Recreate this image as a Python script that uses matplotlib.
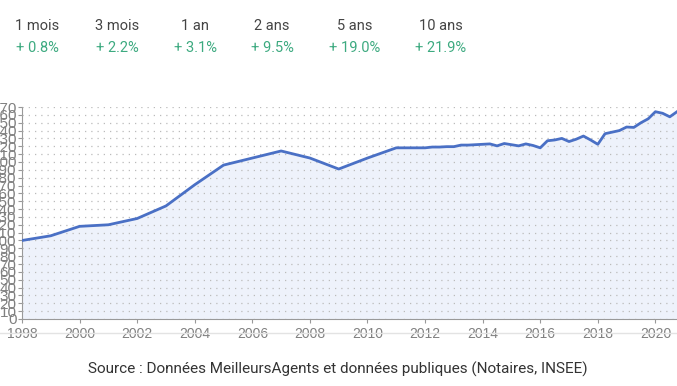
import matplotlib.pyplot as plt
import numpy as np

# en-tete : periodes et evolutions
periodes = ["1 mois", "3 mois", "1 an", "2 ans", "5 ans", "10 ans"]
evolutions = ["+ 0.8%", "+ 2.2%", "+ 3.1%", "+ 9.5%", "+ 19.0%", "+ 21.9%"]

# indice des prix (base 100 en 1998)
annees = [1998, 1999, 2000, 2001, 2002, 2003, 2004, 2005, 2006, 2007, 2008, 2009, 2010,
          2011, 2011.25, 2011.5, 2011.75, 2012, 2012.25, 2012.5, 2012.75,
          2013, 2013.25, 2013.5, 2013.75, 2014, 2014.25, 2014.5, 2014.75,
          2015, 2015.25, 2015.5, 2015.75, 2016, 2016.25, 2016.5, 2016.75,
          2017, 2017.25, 2017.5, 2017.75, 2018, 2018.25, 2018.5, 2018.75,
          2019, 2019.25, 2019.5, 2019.75, 2020, 2020.25, 2020.5, 2020.75]
indice = [100, 106, 118, 120, 128, 144, 171, 196, 205, 214, 205, 191, 205,
          218, 218, 218, 218, 218, 219, 219, 219.5,
          219.5, 221.5, 221.5, 222, 222.5, 223, 220.5, 223.5,
          222, 220.5, 223, 221, 218, 227, 228, 230,
          226, 229, 233, 228, 222.5, 236, 238, 240,
          244.5, 244, 250, 255, 264, 262, 257.5, 264]

xticks = list(range(1998, 2021, 2))
yticks = list(range(0, 271, 10))

plt.rcParams['font.family'] = ['Roboto', 'DejaVu Sans']

fig = plt.figure(figsize=(6.77, 3.86), dpi=100)
ax = fig.add_axes([22 / 677, 1 - 319 / 386, 1 - 22 / 677, (319 - 107) / 386])

ax.fill_between(annees, indice, 0, color='#eef2fb', zorder=1)
ax.plot(annees, indice, color='#4a70c5', lw=2, zorder=3, solid_joinstyle='round')

ax.set_xlim(1998, 2020.75)
ax.set_ylim(0, 270)
ax.set_xticks(xticks)
ax.set_yticks(yticks)
ax.tick_params(axis='both', colors='#999999', labelcolor='#808080',
               length=3, width=0.8, pad=1)
ax.tick_params(axis='x', pad=3)
for lbl in ax.get_xticklabels():
    lbl.set_fontfamily('Liberation Sans')
    lbl.set_fontsize(10)
for lbl in ax.get_yticklabels():
    lbl.set_fontfamily('Liberation Sans')
    lbl.set_fontsize(11)
ax.yaxis.grid(True, color='#bbbbbb', linestyle=(0, (1, 4)), lw=0.9, zorder=2)
ax.set_axisbelow(False)
for s in ['top', 'right']:
    ax.spines[s].set_visible(False)
ax.spines['left'].set_color('#999999')
ax.spines['bottom'].set_color('#999999')
ax.set_facecolor('white')

# en-tete
xs = [37, 117.5, 195, 272, 355, 441]
for x, p, e in zip(xs, periodes, evolutions):
    fig.text(x / 677, 1 - 26 / 386, p, ha='center', va='center', fontsize=10.5, color='#444444')
    fig.text(x / 677, 1 - 48 / 386, e, ha='center', va='center', fontsize=10.5, color='#3daa80')

# separateur et source
fig.add_artist(plt.Line2D([0, 1], [1 - 333 / 386] * 2, color='#e3e3e3', lw=1))
fig.text(338 / 677, 1 - 369 / 386,
         "Source : Données MeilleursAgents et données publiques (Notaires, INSEE)",
         ha='center', va='center', fontsize=11, color='#333333')

fig.savefig('out.png', dpi=100)
